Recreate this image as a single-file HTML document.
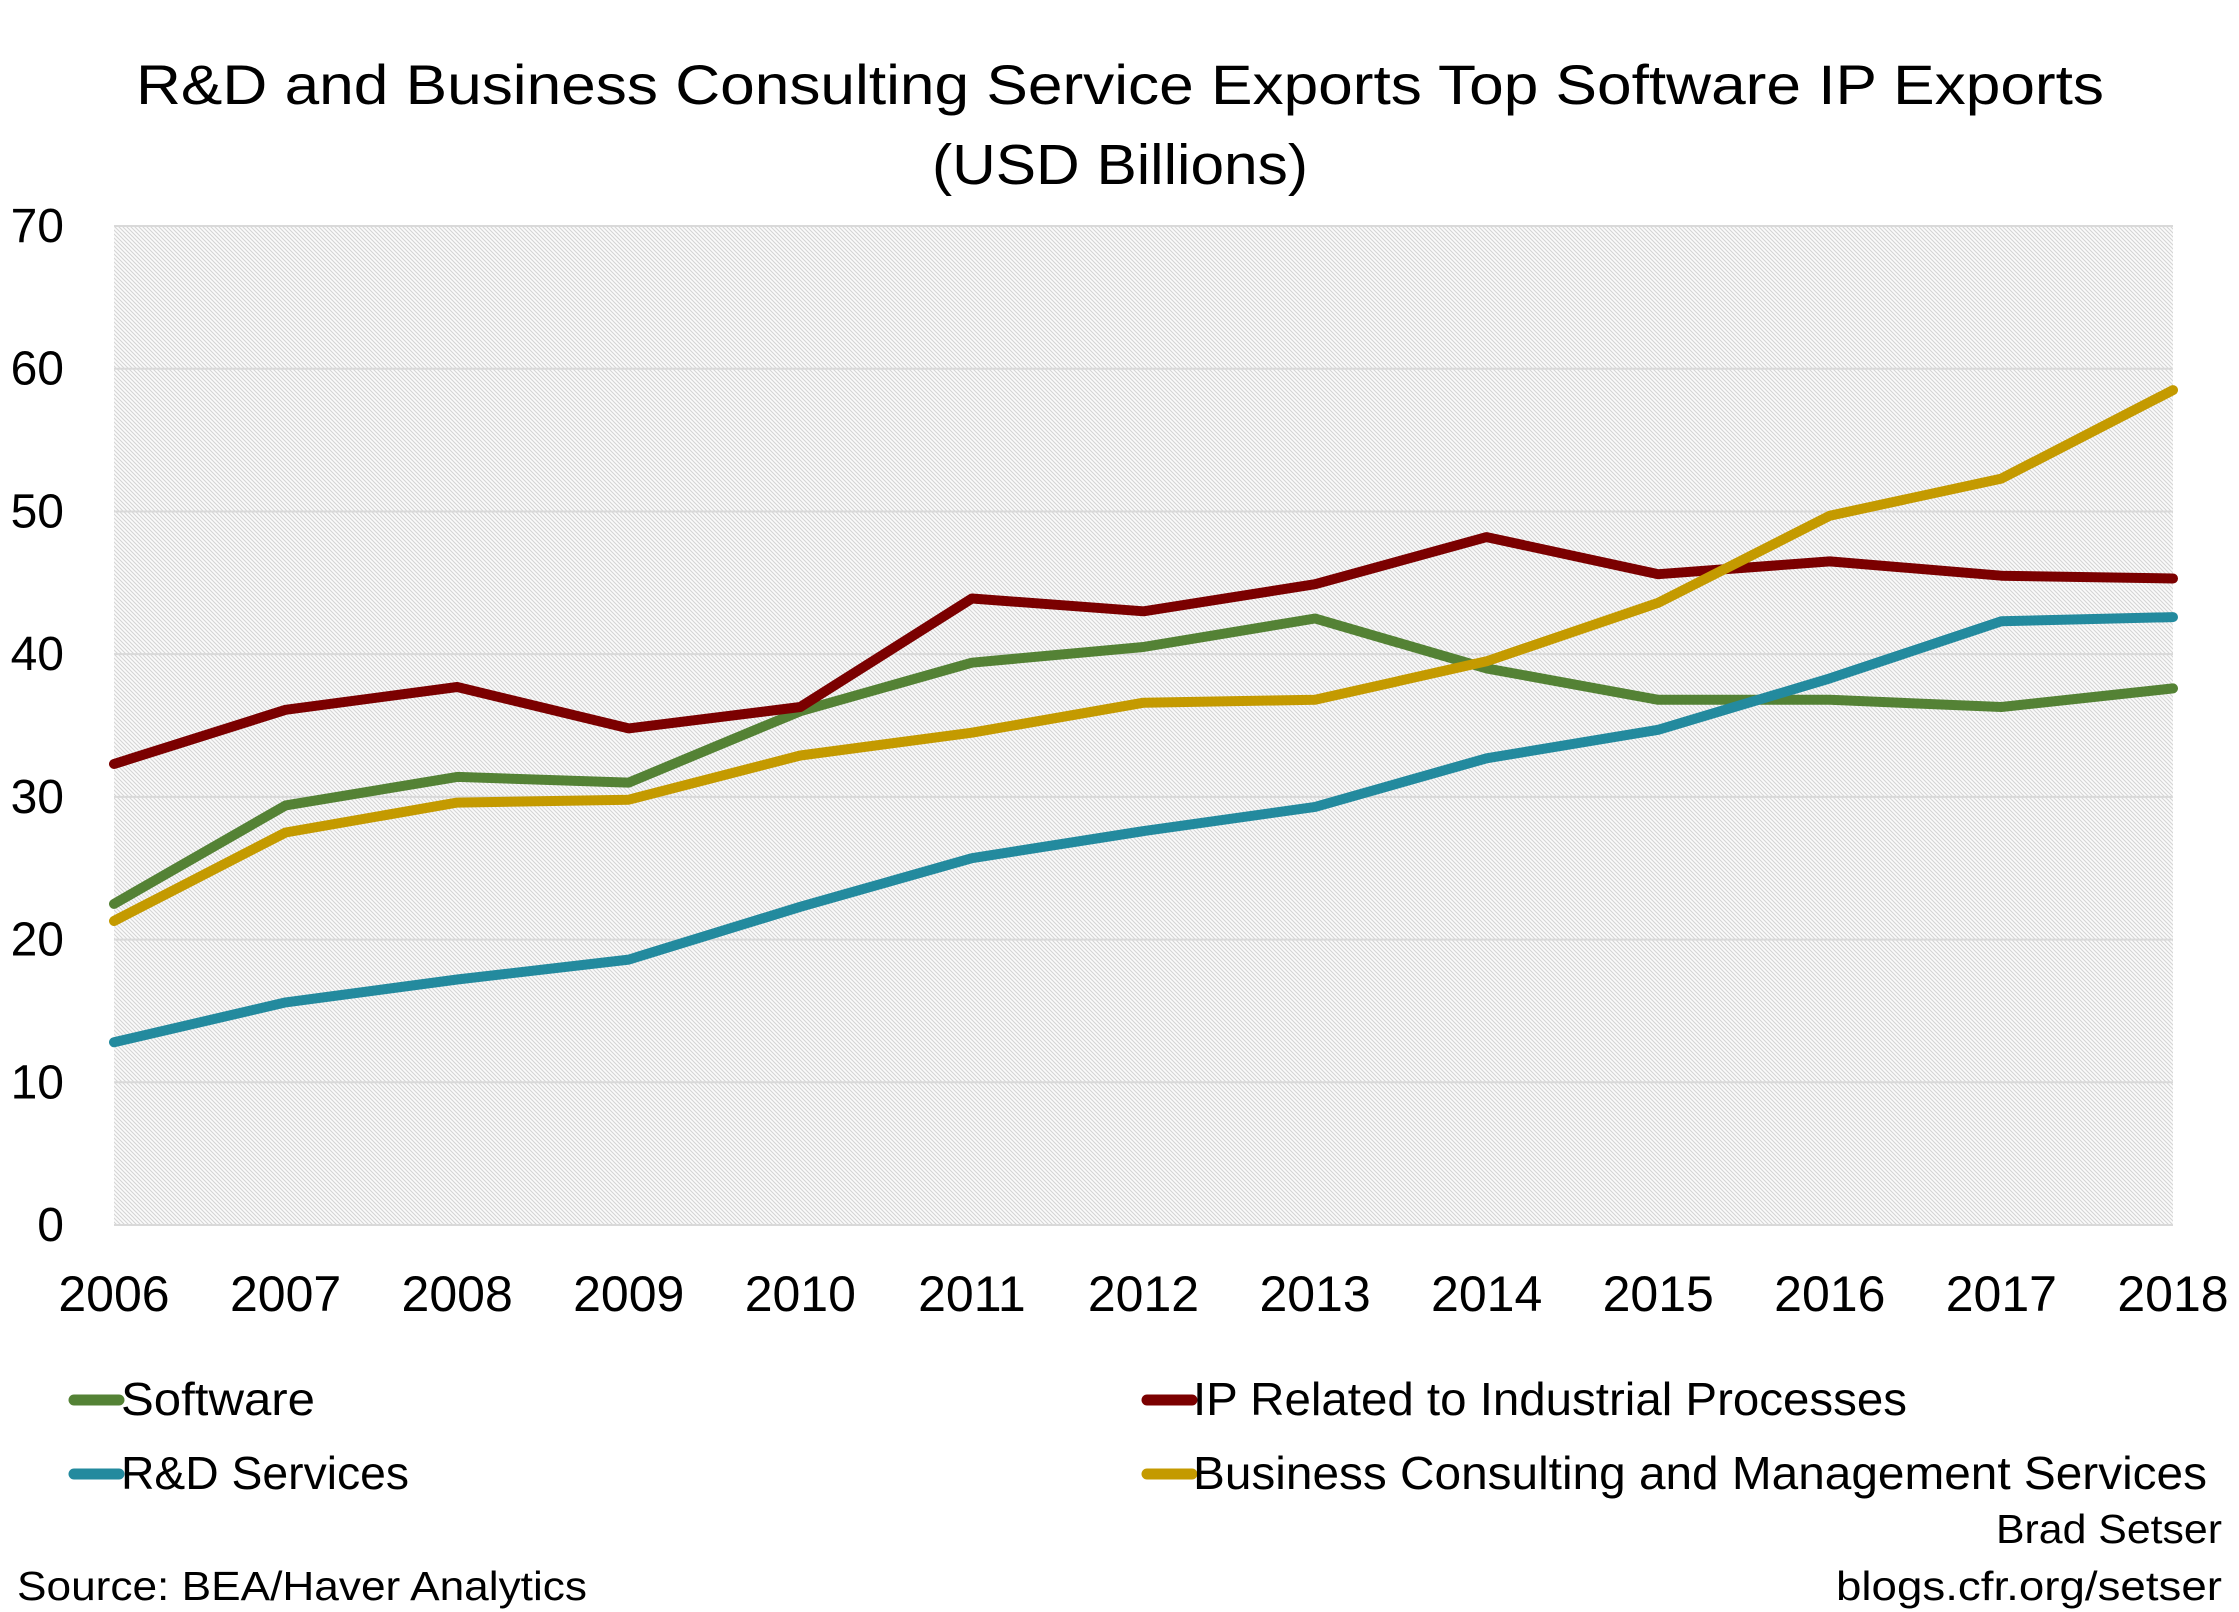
<!DOCTYPE html>
<html><head><meta charset="utf-8"><style>
html,body{margin:0;padding:0;background:#fff;}
svg{display:block;font-family:"Liberation Sans",sans-serif;}
</style></head><body>
<svg id="s" width="2239" height="1612" viewBox="0 0 2239 1612" xmlns="http://www.w3.org/2000/svg">
<defs>
<pattern id="h" width="4" height="4" patternUnits="userSpaceOnUse">
<rect width="4" height="4" fill="#fbfbfb"/>
<path d="M-1,-1 L5,5 M-1,3 L1,5 M3,-1 L5,1" stroke="#d4d4d4" stroke-width="1.1"/>
</pattern>
</defs>
<rect width="2239" height="1612" fill="#fff"/>
<text x="1120" y="104" font-size="56" text-anchor="middle" textLength="1968" lengthAdjust="spacingAndGlyphs">R&amp;D and Business Consulting Service Exports Top Software IP Exports</text>
<text x="1120" y="184" font-size="57" text-anchor="middle" textLength="376" lengthAdjust="spacingAndGlyphs">(USD Billions)</text>
<rect x="114" y="226" width="2059" height="999" fill="url(#h)"/>
<g id="grid" stroke="#d9d9d9" stroke-width="2"></g>
<g id="ylab" font-size="48" text-anchor="end"></g>
<g id="xlab" font-size="50" text-anchor="middle"></g>
<g id="lines" fill="none" stroke-width="10" stroke-linejoin="round" stroke-linecap="round"></g>
<g font-size="46" stroke-linecap="round">
<line x1="74" y1="1400" x2="119" y2="1400" stroke="#548235" stroke-width="11"/>
<text x="121" y="1415" textLength="194" lengthAdjust="spacingAndGlyphs">Software</text>
<line x1="74" y1="1474" x2="119" y2="1474" stroke="#238a9e" stroke-width="11"/>
<text x="121" y="1489" textLength="288" lengthAdjust="spacingAndGlyphs">R&amp;D Services</text>
<line x1="1147" y1="1400" x2="1192" y2="1400" stroke="#7b0000" stroke-width="11"/>
<text x="1193" y="1415" textLength="714" lengthAdjust="spacingAndGlyphs">IP Related to Industrial Processes</text>
<line x1="1147" y1="1474" x2="1192" y2="1474" stroke="#c49a00" stroke-width="11"/>
<text x="1193" y="1489" textLength="1014" lengthAdjust="spacingAndGlyphs">Business Consulting and Management Services</text>
</g>
<text x="2222" y="1543" font-size="41" text-anchor="end" textLength="226" lengthAdjust="spacingAndGlyphs">Brad Setser</text>
<text x="2222" y="1600" font-size="41" text-anchor="end" textLength="386" lengthAdjust="spacingAndGlyphs">blogs.cfr.org/setser</text>
<text x="17" y="1600" font-size="41" textLength="570" lengthAdjust="spacingAndGlyphs">Source: BEA/Haver Analytics</text>
</svg>
<script>
var NS="http://www.w3.org/2000/svg";
function X(i){return 114+i*171.58;}
function Y(v){return 1225-v*14.271;}
function el(t,a,p,txt){var e=document.createElementNS(NS,t);for(var k in a)e.setAttribute(k,a[k]);if(txt!=null)e.textContent=txt;document.getElementById(p).appendChild(e);}
for(var v=0;v<=70;v+=10){el("line",{x1:114,x2:2173,y1:Y(v),y2:Y(v)},"grid");el("text",{x:64,y:Y(v)+16},"ylab",""+v);}
for(var i=0;i<13;i++)el("text",{x:X(i),y:1311},"xlab",""+(2006+i));
var S={
"#548235":[22.5,29.4,31.4,31.0,36.0,39.4,40.5,42.5,39.0,36.8,36.8,36.3,37.6],
"#7b0000":[32.3,36.1,37.7,34.8,36.3,43.9,43.0,44.9,48.2,45.6,46.5,45.5,45.3],
"#238a9e":[12.8,15.6,17.2,18.6,22.3,25.7,27.6,29.3,32.7,34.7,38.3,42.3,42.6],
"#c49a00":[21.3,27.5,29.6,29.8,32.9,34.5,36.6,36.8,39.5,43.6,49.7,52.3,58.5]};
["#548235","#7b0000","#238a9e","#c49a00"].forEach(function(c){var d=S[c].map(function(v,i){return X(i).toFixed(1)+","+Y(v).toFixed(1);}).join(" ");el("polyline",{points:d,stroke:c},"lines");});
</script>
</body></html>
